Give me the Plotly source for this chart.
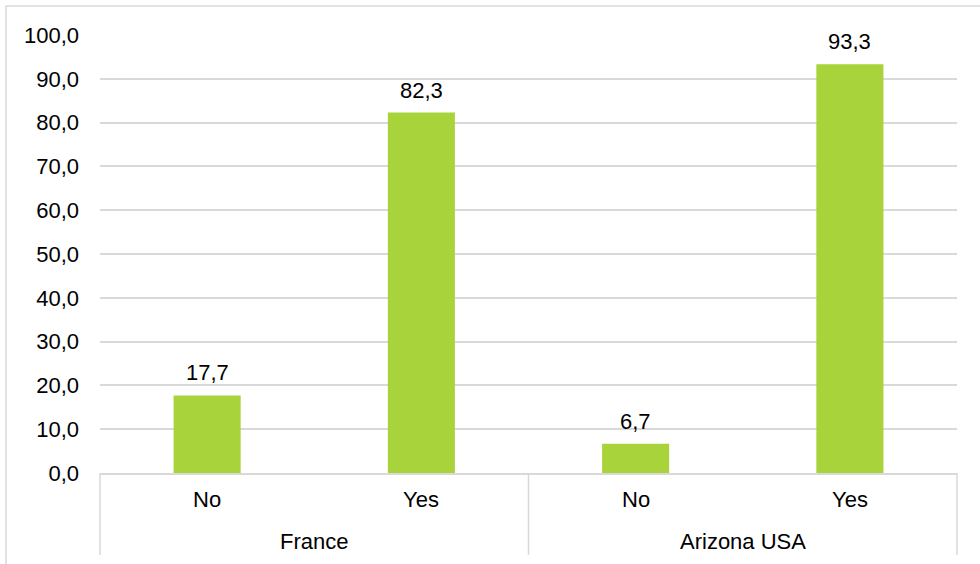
import plotly.graph_objects as go

# Survey answers by region
regions = ["France", "France", "Arizona USA", "Arizona USA"]
answers = ["No", "Yes", "No", "Yes"]
shares = [17.7, 82.3, 6.7, 93.3]

y_ticks = list(range(0, 101, 10))

BAR_COLOR = "#A8D33A"
GRID_COLOR = "#D9D9D9"
FONT = "Liberation Sans, Arial, sans-serif"
FONT_SIZE = 22

fig = go.Figure(
    go.Bar(
        x=[regions, answers],
        y=shares,
        marker=dict(color=BAR_COLOR, line=dict(width=0)),
        width=0.313,
        hoverinfo="skip",
    )
)

# value labels above each bar
for i, v in enumerate(shares):
    fig.add_annotation(
        x=i, y=v, xref="x", yref="y",
        text=f"{v:.1f}".replace(".", ","),
        showarrow=False, yanchor="bottom", yshift=8,
        font=dict(family=FONT, size=FONT_SIZE, color="#000000"),
    )

# two-level category labels below the axis
n = len(answers)
for i, a in enumerate(answers):
    fig.add_annotation(
        x=(i + 0.5) / n, y=-0.0616, xref="paper", yref="paper",
        text=a, showarrow=False, xanchor="center", yanchor="middle",
        font=dict(family=FONT, size=FONT_SIZE, color="#000000"),
    )
groups = []
for r in regions:
    if r not in groups:
        groups.append(r)
for g in groups:
    idx = [i for i, r in enumerate(regions) if r == g]
    x0, x1 = idx[0] / n, (idx[-1] + 1) / n
    fig.add_annotation(
        x=(x0 + x1) / 2, y=-0.1553, xref="paper", yref="paper",
        text=g, showarrow=False, xanchor="center", yanchor="middle",
        font=dict(family=FONT, size=FONT_SIZE, color="#000000"),
    )
# group dividers
edges = sorted({0.0, 1.0} | {(i + 1) / n for i in range(n - 1) if regions[i] != regions[i + 1]})
for e in edges:
    fig.add_shape(
        type="line", xref="paper", yref="paper",
        x0=e, x1=e, y0=0, y1=-0.187,
        line=dict(color=GRID_COLOR, width=1.5),
    )

# chart-area border
fig.add_shape(
    type="rect", xref="paper", yref="paper",
    x0=-0.1097, x1=1.2, y0=-0.5, y1=1.0662,
    line=dict(color=GRID_COLOR, width=1.5), fillcolor="rgba(0,0,0,0)",
    layer="below",
)

fig.update_layout(
    width=980, height=564,
    margin=dict(l=100, r=23, t=35, b=91),
    paper_bgcolor="white", plot_bgcolor="white",
    separators=", ",
    showlegend=False,
    font=dict(family=FONT, size=FONT_SIZE, color="#000000"),
    bargap=0.687,
)
fig.update_yaxes(
    range=[0, 100], tickvals=y_ticks, tickformat=".1f",
    showgrid=True, gridcolor=GRID_COLOR, gridwidth=1.5,
    zeroline=False, showline=False, ticks="", ticklabelstandoff=20,
    fixedrange=True,
)
fig.update_xaxes(
    type="multicategory",
    showline=True, linecolor=GRID_COLOR, linewidth=1.5,
    showdividers=False, showticklabels=False,
    ticks="", showgrid=False, fixedrange=True,
)

fig.write_html("out.html", config={"displayModeBar": False})
